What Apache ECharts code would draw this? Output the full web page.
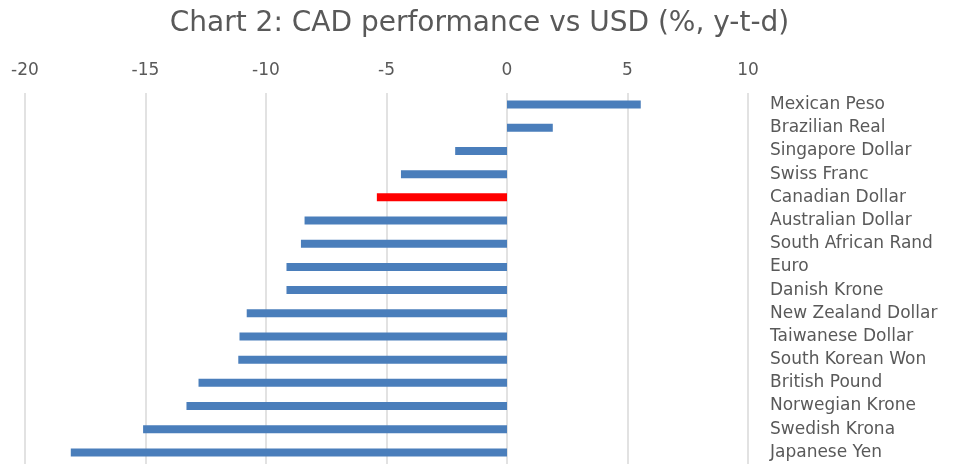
<!DOCTYPE html>
<html>
<head>
<meta charset="utf-8" />
<title>Chart 2</title>
<script src="https://cdn.jsdelivr.net/npm/echarts@6/dist/echarts.min.js"></script>
<style>
  html, body { margin: 0; padding: 0; background: #fff; }
  #main { width: 959px; height: 464px; }
</style>
</head>
<body>
<div id="main"></div>
<script type="text/javascript">
// currencies, top to bottom as in the chart
var currencies = ['Mexican Peso', 'Brazilian Real', 'Singapore Dollar', 'Swiss Franc',
    'Canadian Dollar', 'Australian Dollar', 'South African Rand', 'Euro', 'Danish Krone',
    'New Zealand Dollar', 'Taiwanese Dollar', 'South Korean Won', 'British Pound',
    'Norwegian Krone', 'Swedish Krona', 'Japanese Yen'];
// performance vs USD, % year-to-date
var perf = [5.55, 1.9, -2.15, -4.4, -5.4, -8.4, -8.55, -9.15, -9.15,
    -10.8, -11.1, -11.15, -12.8, -13.3, -15.1, -18.1];
var highlight = 'Canadian Dollar';

var myChart = echarts.init(document.getElementById('main'));

var barData = [];
for (var i = 0; i < currencies.length; i++) {
    barData.push({
        value: perf[i],
        itemStyle: { color: currencies[i] == highlight ? '#ff0000' : '#4a7ebb' }
    });
}

var option = {
    backgroundColor: '#fff',
    animation: false,
    title: {
        text: 'Chart 2: CAD performance vs USD (%, y-t-d)',
        left: 'center',
        top: 5,
        textStyle: {
            color: '#595959',
            fontFamily: 'DejaVu Sans',
            fontWeight: 'normal',
            fontSize: 28
        }
    },
    grid: {
        left: 25,
        right: 211,
        top: 93,
        height: 372
    },
    xAxis: {
        type: 'value',
        position: 'top',
        min: -20,
        max: 10,
        interval: 5,
        axisLine: { show: false },
        axisTick: { show: false },
        axisLabel: {
            color: '#595959',
            fontFamily: 'DejaVu Sans',
            fontSize: 17,
            margin: 14
        },
        splitLine: { lineStyle: { color: '#d9d9d9', width: 1.5 } }
    },
    yAxis: {
        type: 'category',
        data: currencies,
        inverse: true,
        position: 'right',
        axisLine: { show: false, onZero: false },
        axisTick: { show: false },
        axisLabel: {
            color: '#595959',
            fontFamily: 'DejaVu Sans',
            fontSize: 17,
            align: 'left',
            margin: 22
        }
    },
    series: [{
        type: 'bar',
        data: barData,
        barWidth: 8
    }]
};
myChart.setOption(option);
</script>
</body>
</html>
